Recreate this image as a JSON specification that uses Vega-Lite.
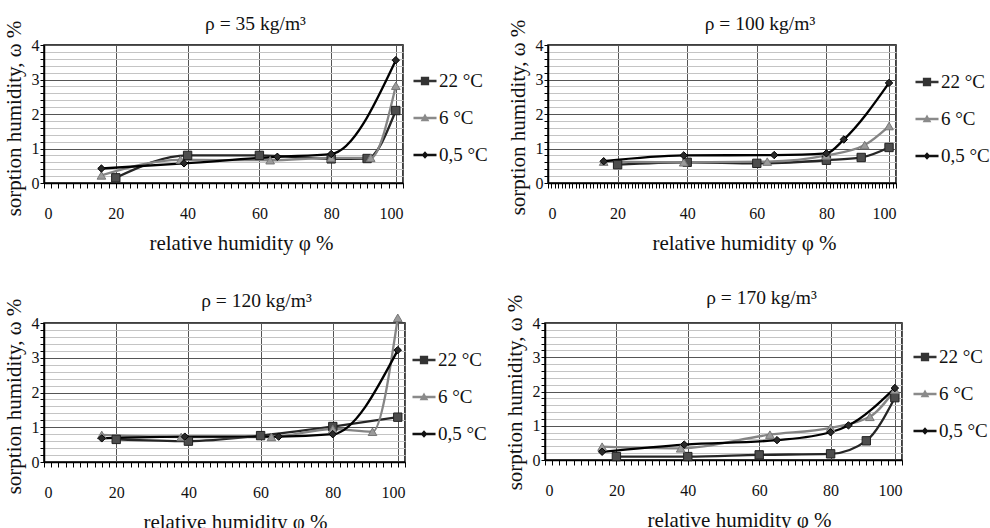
{
  "$schema": "https://vega.github.io/schema/vega-lite/v6.json",
  "background": "white",
  "padding": {"left": 2, "top": 12, "right": 4, "bottom": 2},
  "config": {
    "font": "'Liberation Serif', serif",
    "view": {"stroke": "#000", "strokeWidth": 1.5},
    "axis": {"labelFont": "'Liberation Serif', serif", "labelFontSize": 16, "labelColor": "#111", "titleFont": "'Liberation Serif', serif", "titleFontSize": 21, "titleFontWeight": "normal", "titleColor": "#111", "domainColor": "#000", "domainWidth": 1.5, "tickColor": "#000", "tickWidth": 1, "gridWidth": 1, "gridOpacity": 1, "labelOverlap": false},
    "title": {"font": "'Liberation Serif', serif", "fontSize": 19.5, "fontWeight": "normal", "color": "#111", "frame": "group"},
    "legend": {"labelFont": "'Liberation Serif', serif", "labelFontSize": 19, "labelColor": "#111", "symbolSize": 530, "symbolStrokeWidth": 2, "rowPadding": 15, "padding": 0, "labelOffset": 2}
  },
  "data": {"values": [
    {"p": "35", "T": "22 °C", "x": 20, "y": 0.15}, {"p": "35", "T": "22 °C", "x": 40, "y": 0.8}, {"p": "35", "T": "22 °C", "x": 60, "y": 0.8}, {"p": "35", "T": "22 °C", "x": 80, "y": 0.7}, {"p": "35", "T": "22 °C", "x": 90, "y": 0.71}, {"p": "35", "T": "22 °C", "x": 98, "y": 2.1},
    {"p": "35", "T": "6 °C", "x": 16, "y": 0.22}, {"p": "35", "T": "6 °C", "x": 38, "y": 0.67}, {"p": "35", "T": "6 °C", "x": 63, "y": 0.66}, {"p": "35", "T": "6 °C", "x": 80, "y": 0.73}, {"p": "35", "T": "6 °C", "x": 91, "y": 0.73}, {"p": "35", "T": "6 °C", "x": 98, "y": 2.82},
    {"p": "35", "T": "0,5 °C", "x": 16, "y": 0.42}, {"p": "35", "T": "0,5 °C", "x": 39, "y": 0.57}, {"p": "35", "T": "0,5 °C", "x": 65, "y": 0.76}, {"p": "35", "T": "0,5 °C", "x": 80, "y": 0.84}, {"p": "35", "T": "0,5 °C", "x": 98, "y": 3.56},
    {"p": "100", "T": "22 °C", "x": 20, "y": 0.53}, {"p": "100", "T": "22 °C", "x": 40, "y": 0.6}, {"p": "100", "T": "22 °C", "x": 60, "y": 0.57}, {"p": "100", "T": "22 °C", "x": 80, "y": 0.66}, {"p": "100", "T": "22 °C", "x": 90, "y": 0.74}, {"p": "100", "T": "22 °C", "x": 98, "y": 1.03},
    {"p": "100", "T": "6 °C", "x": 16, "y": 0.62}, {"p": "100", "T": "6 °C", "x": 39, "y": 0.6}, {"p": "100", "T": "6 °C", "x": 63, "y": 0.62}, {"p": "100", "T": "6 °C", "x": 80, "y": 0.8}, {"p": "100", "T": "6 °C", "x": 91, "y": 1.1}, {"p": "100", "T": "6 °C", "x": 98, "y": 1.65},
    {"p": "100", "T": "0,5 °C", "x": 16, "y": 0.63}, {"p": "100", "T": "0,5 °C", "x": 39, "y": 0.8}, {"p": "100", "T": "0,5 °C", "x": 65, "y": 0.81}, {"p": "100", "T": "0,5 °C", "x": 80, "y": 0.86}, {"p": "100", "T": "0,5 °C", "x": 85, "y": 1.26}, {"p": "100", "T": "0,5 °C", "x": 98, "y": 2.9},
    {"p": "120", "T": "22 °C", "x": 20, "y": 0.65}, {"p": "120", "T": "22 °C", "x": 40, "y": 0.6}, {"p": "120", "T": "22 °C", "x": 60, "y": 0.76}, {"p": "120", "T": "22 °C", "x": 80, "y": 1.02}, {"p": "120", "T": "22 °C", "x": 98, "y": 1.29},
    {"p": "120", "T": "6 °C", "x": 16, "y": 0.78}, {"p": "120", "T": "6 °C", "x": 38, "y": 0.72}, {"p": "120", "T": "6 °C", "x": 63, "y": 0.72}, {"p": "120", "T": "6 °C", "x": 80, "y": 0.95}, {"p": "120", "T": "6 °C", "x": 91, "y": 0.87}, {"p": "120", "T": "6 °C", "x": 98, "y": 4.15},
    {"p": "120", "T": "0,5 °C", "x": 16, "y": 0.68}, {"p": "120", "T": "0,5 °C", "x": 39, "y": 0.73}, {"p": "120", "T": "0,5 °C", "x": 65, "y": 0.73}, {"p": "120", "T": "0,5 °C", "x": 80, "y": 0.8}, {"p": "120", "T": "0,5 °C", "x": 98, "y": 3.22},
    {"p": "170", "T": "22 °C", "x": 20, "y": 0.1}, {"p": "170", "T": "22 °C", "x": 40, "y": 0.1}, {"p": "170", "T": "22 °C", "x": 60, "y": 0.15}, {"p": "170", "T": "22 °C", "x": 80, "y": 0.18}, {"p": "170", "T": "22 °C", "x": 90, "y": 0.56}, {"p": "170", "T": "22 °C", "x": 98, "y": 1.82},
    {"p": "170", "T": "6 °C", "x": 16, "y": 0.39}, {"p": "170", "T": "6 °C", "x": 38, "y": 0.34}, {"p": "170", "T": "6 °C", "x": 63, "y": 0.74}, {"p": "170", "T": "6 °C", "x": 80, "y": 0.94}, {"p": "170", "T": "6 °C", "x": 91, "y": 1.26}, {"p": "170", "T": "6 °C", "x": 98, "y": 2.05},
    {"p": "170", "T": "0,5 °C", "x": 16, "y": 0.24}, {"p": "170", "T": "0,5 °C", "x": 39, "y": 0.45}, {"p": "170", "T": "0,5 °C", "x": 65, "y": 0.58}, {"p": "170", "T": "0,5 °C", "x": 80, "y": 0.81}, {"p": "170", "T": "0,5 °C", "x": 85, "y": 1.01}, {"p": "170", "T": "0,5 °C", "x": 98, "y": 2.1}
  ]},
  "spacing": 278,
  "bounds": "flush",
  "resolve": {"scale": {"color": "independent"}, "legend": {"color": "independent"}},
  "vconcat": [
    {
      "spacing": 145,
      "bounds": "flush",
      "resolve": {"scale": {"color": "independent"}, "legend": {"color": "independent"}},
      "hconcat": [
        {
          "width": 359, "height": 138,
          "title": {"text": "ρ = 35 kg/m³", "dx": 32, "dy": 21, "offset": 7},
          "transform": [{"filter": "datum.p === '35'"}],
          "encoding": {
            "x": {"field": "x", "type": "quantitative", "scale": {"domain": [0, 100], "nice": false}, "axis": {"title": "relative humidity φ %", "titleX": 197, "values": [0,2,4,6,8,10,12,14,16,18,20,22,24,26,28,30,32,34,36,38,40,42,44,46,48,50,52,54,56,58,60,62,64,66,68,70,72,74,76,78,80,82,84,86,88,90,92,94,96,98,100], "labelExpr": "datum.value % 20 === 0 ? '' + datum.value : ''", "gridColor": {"condition": {"test": "datum.value % 20 === 0 || datum.value === 98", "value": "#555555"}, "value": "transparent"}, "tickSize": 5, "labelPadding": 17, "titlePadding": 11}},
            "y": {"field": "y", "type": "quantitative", "scale": {"domain": [0, 4], "nice": false}, "axis": {"title": "sorption humidity, ω %", "titleY": 73, "values": [0,0.2,0.4,0.6,0.8,1,1.2,1.4,1.6,1.8,2,2.2,2.4,2.6,2.8,3,3.2,3.4,3.6,3.8,4], "labelExpr": "datum.value % 1 === 0 ? '' + datum.value : ''", "gridColor": {"condition": {"test": "datum.value % 1 === 0", "value": "#555555"}, "value": "#c4c4c4"}, "tickSize": 4, "labelPadding": 1, "titlePadding": 7}}
          },
          "layer": [
            {"mark": {"type": "line", "interpolate": "monotone", "strokeWidth": 2.3},
             "encoding": {"color": {"field": "T", "type": "nominal", "scale": {"domain": ["22 °C", "6 °C", "0,5 °C"], "range": ["#262626", "#858585", "#000000"]},
               "legend": {"orient": "none", "legendX": 369, "legendY": 24, "title": null,
                 "encode": {"symbols": {"update": {
                   "shape": {"signal": "datum.value === '22 °C' ? 'M-1,-0.1L1,-0.1L1,0.1L-1,0.1ZM-0.36,-0.36L0.36,-0.36L0.36,0.36L-0.36,0.36Z' : datum.value === '6 °C' ? 'M-1,-0.1L1,-0.1L1,0.1L-1,0.1ZM0,-0.4L0.38,0.28L-0.38,0.28Z' : 'M-1,-0.1L1,-0.1L1,0.1L-1,0.1ZM0,-0.32L0.3,0L0,0.32L-0.3,0Z'"},
                   "fill": {"signal": "datum.value === '22 °C' ? '#333333' : datum.value === '6 °C' ? '#8a8a8a' : '#111111'"},
                   "fillOpacity": {"value": 1}, "opacity": {"value": 1}, "strokeWidth": {"value": 0}}}}}}}},
            {"transform": [{"filter": "datum.T === '22 °C'"}], "mark": {"type": "point", "shape": "square", "filled": true, "fill": "#4d4d4d", "stroke": "#222222", "strokeWidth": 1, "size": 70, "opacity": 1}},
            {"transform": [{"filter": "datum.T === '6 °C'"}], "mark": {"type": "point", "shape": "triangle-up", "filled": true, "fill": "#9a9a9a", "stroke": "#777777", "strokeWidth": 1, "size": 75, "opacity": 1}},
            {"transform": [{"filter": "datum.T === '0,5 °C'"}], "mark": {"type": "point", "shape": "diamond", "filled": true, "fill": "#2a2a2a", "stroke": "#000000", "strokeWidth": 1, "size": 55, "opacity": 1}}
          ]
        },
        {
          "width": 348, "height": 138,
          "title": {"text": "ρ = 100 kg/m³", "dx": 38, "dy": 22, "offset": 7},
          "transform": [{"filter": "datum.p === '100'"}],
          "encoding": {
            "x": {"field": "x", "type": "quantitative", "scale": {"domain": [0, 100], "nice": false}, "axis": {"title": "relative humidity φ %", "titleX": 196, "values": [0,1,2,3,4,5,6,7,8,9,10,11,12,13,14,15,16,17,18,19,20,21,22,23,24,25,26,27,28,29,30,31,32,33,34,35,36,37,38,39,40,41,42,43,44,45,46,47,48,49,50,51,52,53,54,55,56,57,58,59,60,61,62,63,64,65,66,67,68,69,70,71,72,73,74,75,76,77,78,79,80,81,82,83,84,85,86,87,88,89,90,91,92,93,94,95,96,97,98,99,100], "labelExpr": "datum.value % 20 === 0 ? '' + datum.value : ''", "gridColor": {"condition": {"test": "datum.value % 20 === 0 || datum.value === 98", "value": "#555555"}, "value": "transparent"}, "tickSize": 5, "labelPadding": 17, "titlePadding": 11}},
            "y": {"field": "y", "type": "quantitative", "scale": {"domain": [0, 4], "nice": false}, "axis": {"title": "sorption humidity, ω %", "titleY": 72, "values": [0,0.2,0.4,0.6,0.8,1,1.2,1.4,1.6,1.8,2,2.2,2.4,2.6,2.8,3,3.2,3.4,3.6,3.8,4], "labelExpr": "datum.value % 1 === 0 ? '' + datum.value : ''", "gridColor": {"condition": {"test": "datum.value % 1 === 0", "value": "#555555"}, "value": "#c4c4c4"}, "tickSize": 4, "labelPadding": 1, "titlePadding": 7}}
          },
          "layer": [
            {"mark": {"type": "line", "interpolate": "monotone", "strokeWidth": 2.3},
             "encoding": {"color": {"field": "T", "type": "nominal", "scale": {"domain": ["22 °C", "6 °C", "0,5 °C"], "range": ["#262626", "#858585", "#000000"]},
               "legend": {"orient": "none", "legendX": 367, "legendY": 25, "title": null,
                 "encode": {"symbols": {"update": {
                   "shape": {"signal": "datum.value === '22 °C' ? 'M-1,-0.1L1,-0.1L1,0.1L-1,0.1ZM-0.36,-0.36L0.36,-0.36L0.36,0.36L-0.36,0.36Z' : datum.value === '6 °C' ? 'M-1,-0.1L1,-0.1L1,0.1L-1,0.1ZM0,-0.4L0.38,0.28L-0.38,0.28Z' : 'M-1,-0.1L1,-0.1L1,0.1L-1,0.1ZM0,-0.32L0.3,0L0,0.32L-0.3,0Z'"},
                   "fill": {"signal": "datum.value === '22 °C' ? '#333333' : datum.value === '6 °C' ? '#8a8a8a' : '#111111'"},
                   "fillOpacity": {"value": 1}, "opacity": {"value": 1}, "strokeWidth": {"value": 0}}}}}}}},
            {"transform": [{"filter": "datum.T === '22 °C'"}], "mark": {"type": "point", "shape": "square", "filled": true, "fill": "#4d4d4d", "stroke": "#222222", "strokeWidth": 1, "size": 70, "opacity": 1}},
            {"transform": [{"filter": "datum.T === '6 °C'"}], "mark": {"type": "point", "shape": "triangle-up", "filled": true, "fill": "#9a9a9a", "stroke": "#777777", "strokeWidth": 1, "size": 75, "opacity": 1}},
            {"transform": [{"filter": "datum.T === '0,5 °C'"}], "mark": {"type": "point", "shape": "diamond", "filled": true, "fill": "#2a2a2a", "stroke": "#000000", "strokeWidth": 1, "size": 55, "opacity": 1}}
          ]
        }
      ]
    },
    {
      "spacing": 140,
      "bounds": "flush",
      "resolve": {"scale": {"color": "independent"}, "legend": {"color": "independent"}},
      "hconcat": [
        {
          "width": 361, "height": 139,
          "title": {"text": "ρ = 120 kg/m³", "dx": 32, "dy": 20, "offset": 7},
          "transform": [{"filter": "datum.p === '120'"}],
          "encoding": {
            "x": {"field": "x", "type": "quantitative", "scale": {"domain": [0, 100], "nice": false}, "axis": {"title": "relative humidity φ %", "titleX": 191, "values": [0,2,4,6,8,10,12,14,16,18,20,22,24,26,28,30,32,34,36,38,40,42,44,46,48,50,52,54,56,58,60,62,64,66,68,70,72,74,76,78,80,82,84,86,88,90,92,94,96,98,100], "labelExpr": "datum.value % 20 === 0 ? '' + datum.value : ''", "gridColor": {"condition": {"test": "datum.value % 20 === 0 || datum.value === 98", "value": "#555555"}, "value": "transparent"}, "tickSize": 5, "labelPadding": 17, "titlePadding": 11}},
            "y": {"field": "y", "type": "quantitative", "scale": {"domain": [0, 4], "nice": false}, "axis": {"title": "sorption humidity, ω %", "titleY": 73, "values": [0,0.2,0.4,0.6,0.8,1,1.2,1.4,1.6,1.8,2,2.2,2.4,2.6,2.8,3,3.2,3.4,3.6,3.8,4], "labelExpr": "datum.value % 1 === 0 ? '' + datum.value : ''", "gridColor": {"condition": {"test": "datum.value % 1 === 0", "value": "#555555"}, "value": "#c4c4c4"}, "tickSize": 4, "labelPadding": 1, "titlePadding": 7}}
          },
          "layer": [
            {"mark": {"type": "line", "interpolate": "monotone", "strokeWidth": 2.3},
             "encoding": {"color": {"field": "T", "type": "nominal", "scale": {"domain": ["22 °C", "6 °C", "0,5 °C"], "range": ["#262626", "#858585", "#000000"]},
               "legend": {"orient": "none", "legendX": 368, "legendY": 25, "title": null,
                 "encode": {"symbols": {"update": {
                   "shape": {"signal": "datum.value === '22 °C' ? 'M-1,-0.1L1,-0.1L1,0.1L-1,0.1ZM-0.36,-0.36L0.36,-0.36L0.36,0.36L-0.36,0.36Z' : datum.value === '6 °C' ? 'M-1,-0.1L1,-0.1L1,0.1L-1,0.1ZM0,-0.4L0.38,0.28L-0.38,0.28Z' : 'M-1,-0.1L1,-0.1L1,0.1L-1,0.1ZM0,-0.32L0.3,0L0,0.32L-0.3,0Z'"},
                   "fill": {"signal": "datum.value === '22 °C' ? '#333333' : datum.value === '6 °C' ? '#8a8a8a' : '#111111'"},
                   "fillOpacity": {"value": 1}, "opacity": {"value": 1}, "strokeWidth": {"value": 0}}}}}}}},
            {"transform": [{"filter": "datum.T === '22 °C'"}], "mark": {"type": "point", "shape": "square", "filled": true, "fill": "#4d4d4d", "stroke": "#222222", "strokeWidth": 1, "size": 70, "opacity": 1}},
            {"transform": [{"filter": "datum.T === '6 °C'"}], "mark": {"type": "point", "shape": "triangle-up", "filled": true, "fill": "#9a9a9a", "stroke": "#777777", "strokeWidth": 1, "size": 75, "opacity": 1}},
            {"transform": [{"filter": "datum.T === '0,5 °C'"}], "mark": {"type": "point", "shape": "diamond", "filled": true, "fill": "#2a2a2a", "stroke": "#000000", "strokeWidth": 1, "size": 55, "opacity": 1}}
          ]
        },
        {
          "width": 357, "height": 137,
          "title": {"text": "ρ = 170 kg/m³", "dx": 38, "dy": 21, "offset": 7},
          "transform": [{"filter": "datum.p === '170'"}],
          "encoding": {
            "x": {"field": "x", "type": "quantitative", "scale": {"domain": [0, 100], "nice": false}, "axis": {"title": "relative humidity φ %", "titleX": 194, "values": [0,2,4,6,8,10,12,14,16,18,20,22,24,26,28,30,32,34,36,38,40,42,44,46,48,50,52,54,56,58,60,62,64,66,68,70,72,74,76,78,80,82,84,86,88,90,92,94,96,98,100], "labelExpr": "datum.value % 20 === 0 ? '' + datum.value : ''", "gridColor": {"condition": {"test": "datum.value % 20 === 0 || datum.value === 98", "value": "#555555"}, "value": "transparent"}, "tickSize": 5, "labelPadding": 17, "titlePadding": 11}},
            "y": {"field": "y", "type": "quantitative", "scale": {"domain": [0, 4], "nice": false}, "axis": {"title": "sorption humidity, ω %", "titleY": 69, "values": [0,0.2,0.4,0.6,0.8,1,1.2,1.4,1.6,1.8,2,2.2,2.4,2.6,2.8,3,3.2,3.4,3.6,3.8,4], "labelExpr": "datum.value % 1 === 0 ? '' + datum.value : ''", "gridColor": {"condition": {"test": "datum.value % 1 === 0", "value": "#555555"}, "value": "#c4c4c4"}, "tickSize": 4, "labelPadding": 1, "titlePadding": 7}}
          },
          "layer": [
            {"mark": {"type": "line", "interpolate": "monotone", "strokeWidth": 2.3},
             "encoding": {"color": {"field": "T", "type": "nominal", "scale": {"domain": ["22 °C", "6 °C", "0,5 °C"], "range": ["#262626", "#858585", "#000000"]},
               "legend": {"orient": "none", "legendX": 368, "legendY": 22, "title": null,
                 "encode": {"symbols": {"update": {
                   "shape": {"signal": "datum.value === '22 °C' ? 'M-1,-0.1L1,-0.1L1,0.1L-1,0.1ZM-0.36,-0.36L0.36,-0.36L0.36,0.36L-0.36,0.36Z' : datum.value === '6 °C' ? 'M-1,-0.1L1,-0.1L1,0.1L-1,0.1ZM0,-0.4L0.38,0.28L-0.38,0.28Z' : 'M-1,-0.1L1,-0.1L1,0.1L-1,0.1ZM0,-0.32L0.3,0L0,0.32L-0.3,0Z'"},
                   "fill": {"signal": "datum.value === '22 °C' ? '#333333' : datum.value === '6 °C' ? '#8a8a8a' : '#111111'"},
                   "fillOpacity": {"value": 1}, "opacity": {"value": 1}, "strokeWidth": {"value": 0}}}}}}}},
            {"transform": [{"filter": "datum.T === '22 °C'"}], "mark": {"type": "point", "shape": "square", "filled": true, "fill": "#4d4d4d", "stroke": "#222222", "strokeWidth": 1, "size": 70, "opacity": 1}},
            {"transform": [{"filter": "datum.T === '6 °C'"}], "mark": {"type": "point", "shape": "triangle-up", "filled": true, "fill": "#9a9a9a", "stroke": "#777777", "strokeWidth": 1, "size": 75, "opacity": 1}},
            {"transform": [{"filter": "datum.T === '0,5 °C'"}], "mark": {"type": "point", "shape": "diamond", "filled": true, "fill": "#2a2a2a", "stroke": "#000000", "strokeWidth": 1, "size": 55, "opacity": 1}}
          ]
        }
      ]
    }
  ]
}
